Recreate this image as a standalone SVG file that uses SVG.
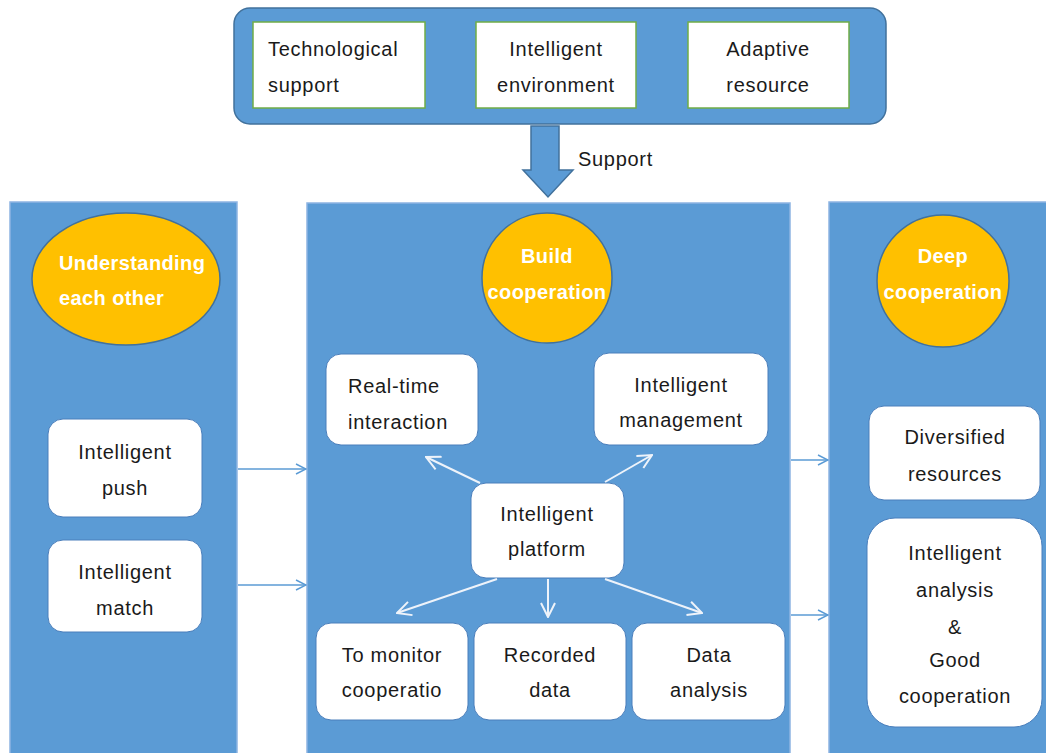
<svg xmlns="http://www.w3.org/2000/svg" width="1046" height="753" viewBox="0 0 1046 753">
<defs>
<style>
.panel{fill:#5B9BD5;stroke:#41719C;stroke-width:1.5}
.col{fill:#5B9BD5;stroke:#8DB4E2;stroke-width:1.5}
.gbox{fill:#FFFFFF;stroke:#70AD47;stroke-width:1.5}
.wbox{fill:#FFFFFF;stroke:#4A7EBB;stroke-width:1}
.oval{fill:#FFC000;stroke:#41719C;stroke-width:1.5}
.t{font-family:"Liberation Sans",Arial,sans-serif;font-size:20px;letter-spacing:0.7px;fill:#1A1A1A}
.c{text-anchor:middle}
.h{font-family:"Liberation Sans",Arial,sans-serif;font-size:20px;letter-spacing:0.4px;font-weight:bold;fill:#FFFFFF}
.blink{stroke:#5B9BD5;stroke-width:1.5;fill:none;marker-end:url(#ab)}
.wlink{stroke:#EEF3FA;stroke-width:2;fill:none;marker-end:url(#aw)}
</style>
<marker id="ab" viewBox="0 0 12 12" refX="11" refY="6" markerWidth="12" markerHeight="12" markerUnits="userSpaceOnUse" orient="auto">
<path d="M1,1 L11,6 L1,11" fill="none" stroke="#5B9BD5" stroke-width="1.5"/>
</marker>
<marker id="aw" viewBox="0 0 16 16" refX="15" refY="8" markerWidth="16" markerHeight="16" markerUnits="userSpaceOnUse" orient="auto">
<path d="M1,1 L15,8 L1,15" fill="none" stroke="#EEF3FA" stroke-width="2"/>
</marker>
</defs>
<rect width="1046" height="753" fill="#FFFFFF"/>

<g id="support-panel">
<rect class="panel" x="234" y="8" width="652" height="116" rx="16"/>
</g>
<g id="technological-support">
<rect class="gbox" x="253" y="22" width="172" height="86"/>
<text class="t" x="268" y="56">Technological</text>
<text class="t" x="268" y="92">support</text>
</g>
<g id="intelligent-environment">
<rect class="gbox" x="476" y="22" width="160" height="86"/>
<text class="t c" x="556" y="56">Intelligent</text>
<text class="t c" x="556" y="92">environment</text>
</g>
<g id="adaptive-resource">
<rect class="gbox" x="688" y="22" width="161" height="86"/>
<text class="t c" x="768" y="56">Adaptive</text>
<text class="t c" x="768" y="92">resource</text>
</g>

<g id="support-arrow">
<path class="panel" d="M531,126 L559,126 L559,170 L573,170 L548,197 L523,170 L531,170 Z"/>
<text class="t" x="578" y="166">Support</text>
</g>

<g id="col-understanding">
<rect class="col" x="10" y="202" width="227" height="560"/>
<ellipse class="oval" cx="126" cy="279" rx="94" ry="66"/>
<text class="h" x="59" y="270">Understanding</text>
<text class="h" x="59" y="305">each other</text>
</g>
<g id="col-build">
<rect class="col" x="307" y="203" width="483" height="560"/>
<circle class="oval" cx="547" cy="278" r="65"/>
<text class="h c" x="547" y="263">Build</text>
<text class="h c" x="547" y="299">cooperation</text>
</g>
<g id="col-deep">
<rect class="col" x="829" y="202" width="230" height="560"/>
<circle class="oval" cx="943" cy="281" r="66"/>
<text class="h c" x="943" y="263">Deep</text>
<text class="h c" x="943" y="299">cooperation</text>
</g>

<g id="intelligent-push">
<rect class="wbox" x="48" y="419" width="154" height="98" rx="15"/>
<text class="t c" x="125" y="459">Intelligent</text>
<text class="t c" x="125" y="495">push</text>
</g>
<g id="intelligent-match">
<rect class="wbox" x="48" y="540" width="154" height="92" rx="15"/>
<text class="t c" x="125" y="579">Intelligent</text>
<text class="t c" x="125" y="615">match</text>
</g>

<g id="real-time-interaction">
<rect class="wbox" x="326" y="354" width="152" height="91" rx="15"/>
<text class="t" x="348" y="393">Real-time</text>
<text class="t" x="348" y="429">interaction</text>
</g>
<g id="intelligent-management">
<rect class="wbox" x="594" y="353" width="174" height="92" rx="15"/>
<text class="t c" x="681" y="392">Intelligent</text>
<text class="t c" x="681" y="427">management</text>
</g>
<g id="intelligent-platform">
<rect class="wbox" x="471" y="483" width="153" height="95" rx="15"/>
<text class="t c" x="547" y="521">Intelligent</text>
<text class="t c" x="547" y="556">platform</text>
</g>
<g id="to-monitor">
<rect class="wbox" x="316" y="623" width="152" height="97" rx="15"/>
<text class="t c" x="392" y="662">To monitor</text>
<text class="t c" x="392" y="697">cooperatio</text>
</g>
<g id="recorded-data">
<rect class="wbox" x="474" y="623" width="152" height="97" rx="15"/>
<text class="t c" x="550" y="662">Recorded</text>
<text class="t c" x="550" y="697">data</text>
</g>
<g id="data-analysis">
<rect class="wbox" x="632" y="623" width="153" height="97" rx="15"/>
<text class="t c" x="709" y="662">Data</text>
<text class="t c" x="709" y="697">analysis</text>
</g>

<g id="diversified-resources">
<rect class="wbox" x="869" y="406" width="171" height="94" rx="15"/>
<text class="t c" x="955" y="444">Diversified</text>
<text class="t c" x="955" y="481">resources</text>
</g>
<g id="intelligent-analysis">
<rect class="wbox" x="867" y="518" width="175" height="209" rx="28"/>
<text class="t c" x="955" y="560">Intelligent</text>
<text class="t c" x="955" y="597">analysis</text>
<text class="t c" x="955" y="634">&amp;</text>
<text class="t c" x="955" y="667">Good</text>
<text class="t c" x="955" y="703">cooperation</text>
</g>

<g id="connectors">
<line class="blink" x1="238" y1="469" x2="306" y2="469"/>
<line class="blink" x1="238" y1="585" x2="306" y2="585"/>
<line class="blink" x1="791" y1="460" x2="828" y2="460"/>
<line class="blink" x1="791" y1="615" x2="828" y2="615"/>
<line class="wlink" x1="480" y1="483" x2="426" y2="457"/>
<line class="wlink" x1="605" y1="482" x2="652" y2="455"/>
<line class="wlink" x1="497" y1="579" x2="397" y2="613"/>
<line class="wlink" x1="548" y1="579" x2="548" y2="617"/>
<line class="wlink" x1="605" y1="579" x2="702" y2="613"/>
</g>
</svg>
